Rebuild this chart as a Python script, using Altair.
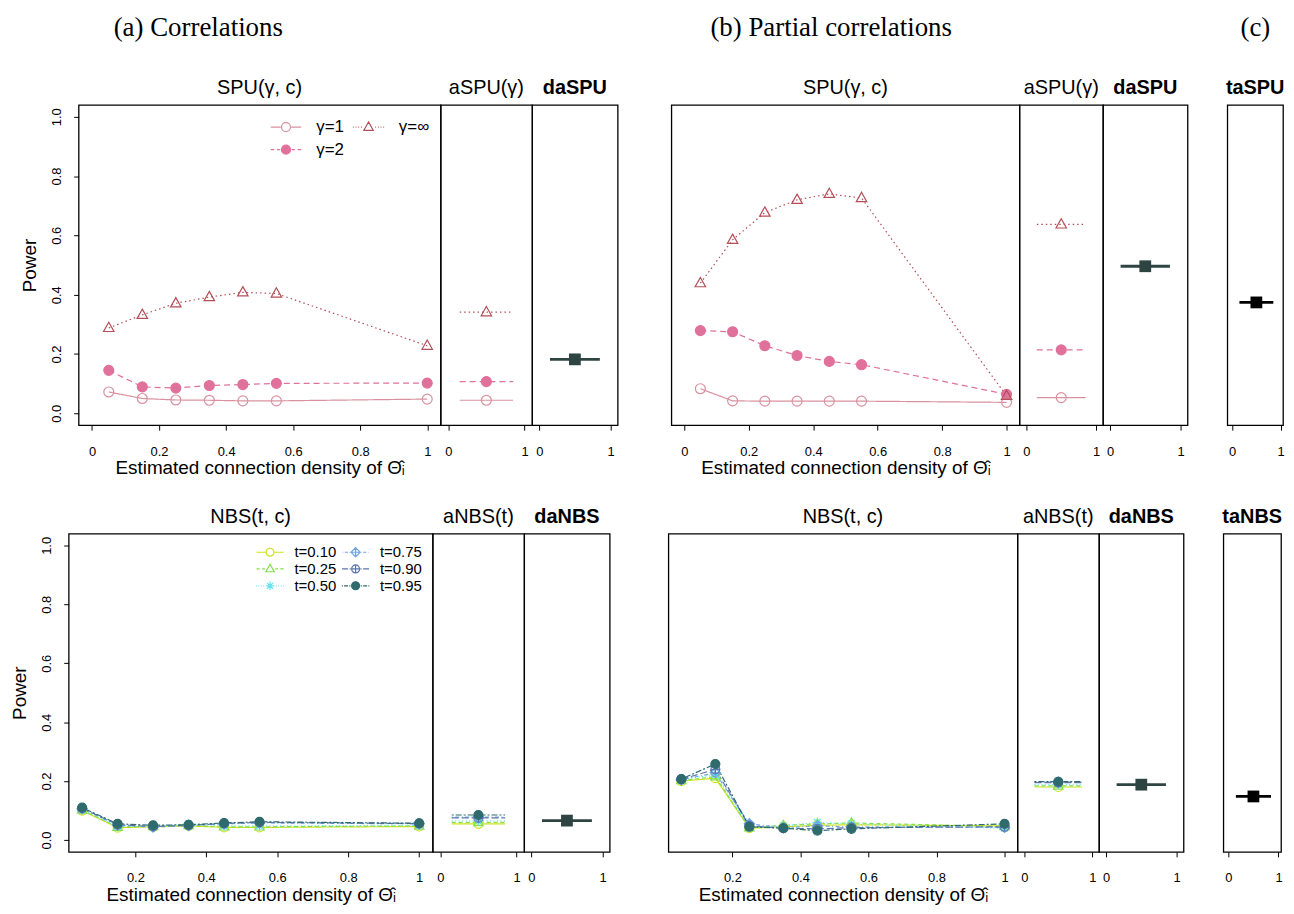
import altair as alt
import pandas as pd

SANS = "Liberation Sans"
SERIF = "Liberation Serif"

# ------------------------------------------------------------------ data
density = [0.05, 0.15, 0.25, 0.35, 0.45, 0.55, 1.0]
gamma_names = ["γ=1", "γ=2", "γ=∞"]
t_names = ["t=0.10", "t=0.25", "t=0.50", "t=0.75", "t=0.90", "t=0.95"]

# (a) Correlations - SPU
spu_a_g1 = [0.072, 0.050, 0.045, 0.044, 0.042, 0.042, 0.048]
spu_a_g2 = [0.145, 0.089, 0.085, 0.094, 0.097, 0.101, 0.102]
spu_a_ginf = [0.288, 0.332, 0.371, 0.392, 0.408, 0.404, 0.228]
aspu_a = [0.044, 0.107, 0.341]
daspu_a = [0.182]

# (b) Partial correlations - SPU
spu_b_g1 = [0.083, 0.042, 0.041, 0.041, 0.041, 0.041, 0.037]
spu_b_g2 = [0.279, 0.275, 0.228, 0.195, 0.175, 0.164, 0.064]
spu_b_ginf = [0.439, 0.585, 0.677, 0.720, 0.740, 0.726, 0.059]
aspu_b = [0.053, 0.214, 0.637]
daspu_b = [0.496]

# (c)
taspu_c = [0.374]

# (a) Correlations - NBS
nbs_a_t010 = [0.100, 0.042, 0.045, 0.048, 0.043, 0.043, 0.046]
nbs_a_t025 = [0.102, 0.044, 0.046, 0.050, 0.045, 0.045, 0.048]
nbs_a_t050 = [0.104, 0.046, 0.047, 0.055, 0.048, 0.048, 0.050]
nbs_a_t075 = [0.106, 0.050, 0.044, 0.049, 0.055, 0.058, 0.055]
nbs_a_t090 = [0.108, 0.052, 0.046, 0.050, 0.056, 0.060, 0.056]
nbs_a_t095 = [0.110, 0.055, 0.050, 0.052, 0.058, 0.062, 0.057]
anbs_a = [0.055, 0.060, 0.065, 0.078, 0.075, 0.085]
danbs_a = [0.066]

# (b) Partial correlations - NBS
nbs_b_t010 = [0.200, 0.210, 0.040, 0.045, 0.050, 0.052, 0.048]
nbs_b_t025 = [0.202, 0.215, 0.042, 0.050, 0.055, 0.058, 0.046]
nbs_b_t050 = [0.205, 0.222, 0.045, 0.048, 0.060, 0.055, 0.040]
nbs_b_t075 = [0.205, 0.228, 0.055, 0.042, 0.048, 0.045, 0.043]
nbs_b_t090 = [0.206, 0.240, 0.048, 0.040, 0.038, 0.042, 0.045]
nbs_b_t095 = [0.207, 0.258, 0.045, 0.040, 0.032, 0.038, 0.055]
anbs_b = [0.180, 0.184, 0.188, 0.197, 0.195, 0.198]
danbs_b = [0.188]

# (c)
tanbs_c = [0.148]

x_ticks_top = [0, 0.2, 0.4, 0.6, 0.8, 1]
x_ticks_bottom = [0.2, 0.4, 0.6, 0.8, 1]
side_ticks = [0, 1]
y_ticks = [0, 0.2, 0.4, 0.6, 0.8, 1.0]
seg_ends = [0.15, 0.85]
seg_mid = 0.5

# ------------------------------------------------------------------ scales / styles
TOP_MAIN_DOM = [-0.04, 1.04]
BOT_MAIN_DOM = [0.012, 1.038]
SIDE_DOM = [-0.1, 1.1]
C_DOM = [-0.1, 1.05]
Y_DOM = [-0.04, 1.04]

CIRCLE = "M1,0A1,1,0,1,1,-1,0A1,1,0,1,1,1,0Z"
TRIANGLE = "M0,-1.15L1.05,0.72L-1.05,0.72Z"
STAR = "M-1.05,0L1.05,0M0,-1.05L0,1.05M-0.75,-0.75L0.75,0.75M-0.75,0.75L0.75,-0.75"
DIAMOND_PLUS = "M0,-1.15L1.15,0L0,1.15L-1.15,0ZM-1.15,0L1.15,0M0,-1.15L0,1.15"
CIRCLE_PLUS = CIRCLE + "M-1,0L1,0M0,-1L0,1"


def stub_path(segs):
    parts = []
    for a, b in segs:
        parts.append(f"M{a},0L{b},0M{-a},0L{-b},0")
    return "".join(parts)


STUB_SOLID = stub_path([(1.15, 3.4)])
STUB_DASHED = stub_path([(1.3, 2.0), (2.6, 3.4)])
STUB_DOTTED = stub_path([(1.5, 1.68), (2.1, 2.28), (2.7, 2.88), (3.3, 3.48)])
STUB_DOTDASH = stub_path([(1.35, 1.5), (1.9, 2.7), (3.1, 3.25)])
STUB_LONGDASH = stub_path([(1.2, 1.5), (1.9, 3.4)])
STUB_TWODASH = stub_path([(1.3, 1.6), (1.9, 2.9), (3.2, 3.45)])

gamma_style = {
    "names": gamma_names,
    "colors": ["#D9919F", "#E0719B", "#B24F58"],
    "dashes": [[1, 0], [6, 4], [1.5, 3]],
    "shapes": [CIRCLE, CIRCLE, TRIANGLE],
    "fills": ["transparent", "#E0719B", "transparent"],
    "stubs": [STUB_SOLID, STUB_DASHED, STUB_DOTTED],
    "size": 100,
    "legend": dict(x=200, y=13.5, symbolSize=81, fontSize=17, labelOffset=22, colPad=6, rowPad=5),
}
nbs_style = {
    "names": t_names,
    "colors": ["#CDE21C", "#84E047", "#62E4F0", "#6FA6E4", "#5B76AF", "#2F6A6C"],
    "dashes": [[1, 0], [4, 3], [1, 2.5], [1, 2.5, 4, 2.5], [7, 3], [2, 2, 6, 2]],
    "shapes": [CIRCLE, TRIANGLE, STAR, DIAMOND_PLUS, CIRCLE_PLUS, CIRCLE],
    "fills": ["transparent"] * 5 + ["#2F6A6C"],
    "stubs": [STUB_SOLID, STUB_DASHED, STUB_DOTTED, STUB_DOTDASH, STUB_LONGDASH, STUB_TWODASH],
    "size": 81,
    "legend": dict(x=195, y=11, symbolSize=64, fontSize=15, labelOffset=17, colPad=2, rowPad=1),
}

LABEL_EXPR = "datum.value == 0 ? '0' : (datum.value == 1 ? '1' : format(datum.value, '.1f'))"
XTITLE = "Estimated connection density of \u0398\u0302\u1d62"

H1, H2 = 322, 320
ROW_GAP = 27

INDEP = dict(shape="independent", stroke="independent", fill="independent",
             strokeDash="independent", color="independent")


def x_axis(values, with_title):
    kw = dict(values=values, labelExpr=LABEL_EXPR, tickSize=5, labelPadding=15,
              labelFlush=False, domain=False, grid=False)
    if with_title:
        kw.update(title=XTITLE, titlePadding=1)
    else:
        kw.update(title=None)
    return alt.Axis(**kw)


Y_AXIS = alt.Axis(values=y_ticks, format=".1f", title="Power", labelAngle=270,
                  labelAlign="center", labelBaseline="bottom", labelPadding=10,
                  tickSize=5, titlePadding=11, domain=False, grid=False)


def yscale():
    return alt.Scale(domain=Y_DOM, nice=False, zero=False)


def panel_title(text, bold=False):
    return alt.TitleParams(text, frame="group", offset=7, fontSize=20, font=SANS,
                           fontWeight="bold" if bold else "normal", color="black")


def scale_for(style, key):
    return alt.Scale(domain=style["names"], range=style[key])


def main_panel(series_lists, style, xdomain, xticks, width, height, title, show_y):
    rows = []
    for name, vals in zip(style["names"], series_lists):
        for xv, yv in zip(density, vals):
            rows.append({"x": xv, "y": yv, "s": name})
    df = pd.DataFrame(rows)
    X = alt.X("x:Q", scale=alt.Scale(domain=xdomain, nice=False, zero=False), axis=x_axis(xticks, True))
    Y = alt.Y("y:Q", scale=yscale(), axis=Y_AXIS if show_y else None)
    base = alt.Chart(df)
    lines = base.mark_line(strokeWidth=1.2).encode(
        x=X, y=Y,
        stroke=alt.Stroke("s:N", scale=scale_for(style, "colors"), legend=None),
        strokeDash=alt.StrokeDash("s:N", scale=scale_for(style, "dashes"), legend=None),
    )
    pts = base.mark_point(filled=False, opacity=1, size=style["size"], strokeWidth=1.2).encode(
        x=X, y=Y,
        shape=alt.Shape("s:N", scale=scale_for(style, "shapes"), legend=None),
        stroke=alt.Stroke("s:N", scale=scale_for(style, "colors"), legend=None),
        fill=alt.Fill("s:N", scale=scale_for(style, "fills"), legend=None),
    )
    layers = [lines, pts]
    if show_y:
        lg = style["legend"]
        leg_shapes = [s + st for s, st in zip(style["shapes"], style["stubs"])]
        L = alt.Legend(orient="none", legendX=lg["x"], legendY=lg["y"], columns=2, title=None,
                       symbolSize=lg["symbolSize"], symbolStrokeWidth=1.2,
                       labelFontSize=lg["fontSize"], labelFont=SANS, labelColor="black",
                       labelOffset=lg["labelOffset"], columnPadding=lg["colPad"],
                       rowPadding=lg["rowPad"], padding=0)
        leg = base.transform_filter("false").mark_point(filled=False, opacity=1, strokeWidth=1.2).encode(
            x=X, y=Y,
            fill=alt.Fill("s:N", scale=scale_for(style, "fills"), legend=L),
            stroke=alt.Stroke("s:N", scale=scale_for(style, "colors"), legend=L),
            shape=alt.Shape("s:N", scale=alt.Scale(domain=style["names"], range=leg_shapes), legend=L),
        )
        layers.append(leg)
    ch = alt.layer(*layers).resolve_scale(shape="independent", stroke="independent",
                                          fill="independent", strokeDash="independent")
    return ch.properties(width=width, height=height, title=panel_title(title))


def side_panel(values, style, width, height, title):
    df = pd.DataFrame({"s": style["names"], "y": values})
    df["x0"] = seg_ends[0]
    df["x1"] = seg_ends[1]
    df["xm"] = seg_mid
    xs = alt.Scale(domain=SIDE_DOM, nice=False, zero=False)
    ax = x_axis(side_ticks, False)
    base = alt.Chart(df)
    rules = base.mark_rule(strokeWidth=1.2).encode(
        x=alt.X("x0:Q", scale=xs, axis=ax), x2="x1:Q",
        y=alt.Y("y:Q", scale=yscale(), axis=None),
        stroke=alt.Stroke("s:N", scale=scale_for(style, "colors"), legend=None),
        strokeDash=alt.StrokeDash("s:N", scale=scale_for(style, "dashes"), legend=None),
    )
    pts = base.mark_point(filled=False, opacity=1, size=style["size"], strokeWidth=1.2).encode(
        x=alt.X("xm:Q", scale=xs, axis=ax),
        y=alt.Y("y:Q", scale=yscale(), axis=None),
        shape=alt.Shape("s:N", scale=scale_for(style, "shapes"), legend=None),
        stroke=alt.Stroke("s:N", scale=scale_for(style, "colors"), legend=None),
        fill=alt.Fill("s:N", scale=scale_for(style, "fills"), legend=None),
    )
    return alt.layer(rules, pts).properties(width=width, height=height, title=panel_title(title))


def summary_panel(value, color, width, height, title, xdomain):
    df = pd.DataFrame({"y": value})
    df["x0"] = seg_ends[0]
    df["x1"] = seg_ends[1]
    df["xm"] = seg_mid
    xs = alt.Scale(domain=xdomain, nice=False, zero=False)
    ax = x_axis(side_ticks, False)
    base = alt.Chart(df)
    rule = base.mark_rule(strokeWidth=2.8, color=color).encode(
        x=alt.X("x0:Q", scale=xs, axis=ax), x2="x1:Q",
        y=alt.Y("y:Q", scale=yscale(), axis=None))
    pt = base.mark_point(shape="square", filled=True, size=140, color=color, opacity=1).encode(
        x=alt.X("xm:Q", scale=xs, axis=ax),
        y=alt.Y("y:Q", scale=yscale(), axis=None))
    return alt.layer(rule, pt).properties(width=width, height=height, title=panel_title(title, True))


def spacer(width, height, heading=None, dx=0):
    ch = alt.Chart(pd.DataFrame({"v": [0]})).mark_point(opacity=0).encode(
        x=alt.value(0), y=alt.value(0)
    ).properties(width=width, height=height, view=alt.ViewBackground(strokeOpacity=0))
    if heading:
        ch = ch.properties(title=alt.TitleParams(heading, anchor="start", dx=dx, font=SERIF,
                                                 fontSize=27, fontWeight="normal",
                                                 color="black", offset=61))
    return ch


# ------------------------------------------------------------------ panels
top = [
    spacer(68, H1, "(a) Correlations", dx=106),
    main_panel([spu_a_g1, spu_a_g2, spu_a_ginf], gamma_style, TOP_MAIN_DOM, x_ticks_top, 364, H1,
               "SPU(γ, c)", True),
    side_panel(aspu_a, gamma_style, 92, H1, "aSPU(γ)"),
    summary_panel(daspu_a, "#2E4443", 86, H1, "daSPU", SIDE_DOM),
    spacer(54, H1, "(b) Partial correlations", dx=96),
    main_panel([spu_b_g1, spu_b_g2, spu_b_ginf], gamma_style, TOP_MAIN_DOM, x_ticks_top, 350, H1,
               "SPU(γ, c)", False),
    side_panel(aspu_b, gamma_style, 84, H1, "aSPU(γ)"),
    summary_panel(daspu_b, "#2E4443", 85, H1, "daSPU", SIDE_DOM),
    spacer(40, H1, "(c)", dx=56),
    summary_panel(taspu_c, "black", 56, H1, "taSPU", C_DOM),
]

bottom = [
    spacer(58, H2),
    main_panel([nbs_a_t010, nbs_a_t025, nbs_a_t050, nbs_a_t075, nbs_a_t090, nbs_a_t095], nbs_style,
               BOT_MAIN_DOM, x_ticks_bottom, 366, H2, "NBS(t, c)", True),
    side_panel(anbs_a, nbs_style, 92, H2, "aNBS(t)"),
    summary_panel(danbs_a, "#2E4443", 86, H2, "daNBS", SIDE_DOM),
    spacer(59, H2),
    main_panel([nbs_b_t010, nbs_b_t025, nbs_b_t050, nbs_b_t075, nbs_b_t090, nbs_b_t095], nbs_style,
               BOT_MAIN_DOM, x_ticks_bottom, 351, H2, "NBS(t, c)", False),
    side_panel(anbs_b, nbs_style, 82, H2, "aNBS(t)"),
    summary_panel(danbs_b, "#2E4443", 85, H2, "daNBS", SIDE_DOM),
    spacer(40, H2),
    summary_panel(tanbs_c, "black", 58, H2, "taNBS", C_DOM),
]

top_row = alt.hconcat(*top, spacing=0, bounds="flush").resolve_scale(**INDEP)
bottom_row = alt.hconcat(*bottom, spacing=0, bounds="flush").resolve_scale(**INDEP)

chart = alt.vconcat(top_row, bottom_row, spacing=ROW_GAP).resolve_scale(**INDEP).properties(
    padding={"left": 0, "top": 3, "right": 0, "bottom": 0}
).configure_view(
    stroke="black", strokeWidth=1.3
).configure_axis(
    labelFont=SANS, titleFont=SANS, labelFontSize=13, titleFontSize=19,
    labelColor="black", titleColor="black", tickColor="black", tickWidth=1,
    titleFontWeight="normal"
)

chart.save("out.html", embed_options={"renderer": "svg", "actions": False})
